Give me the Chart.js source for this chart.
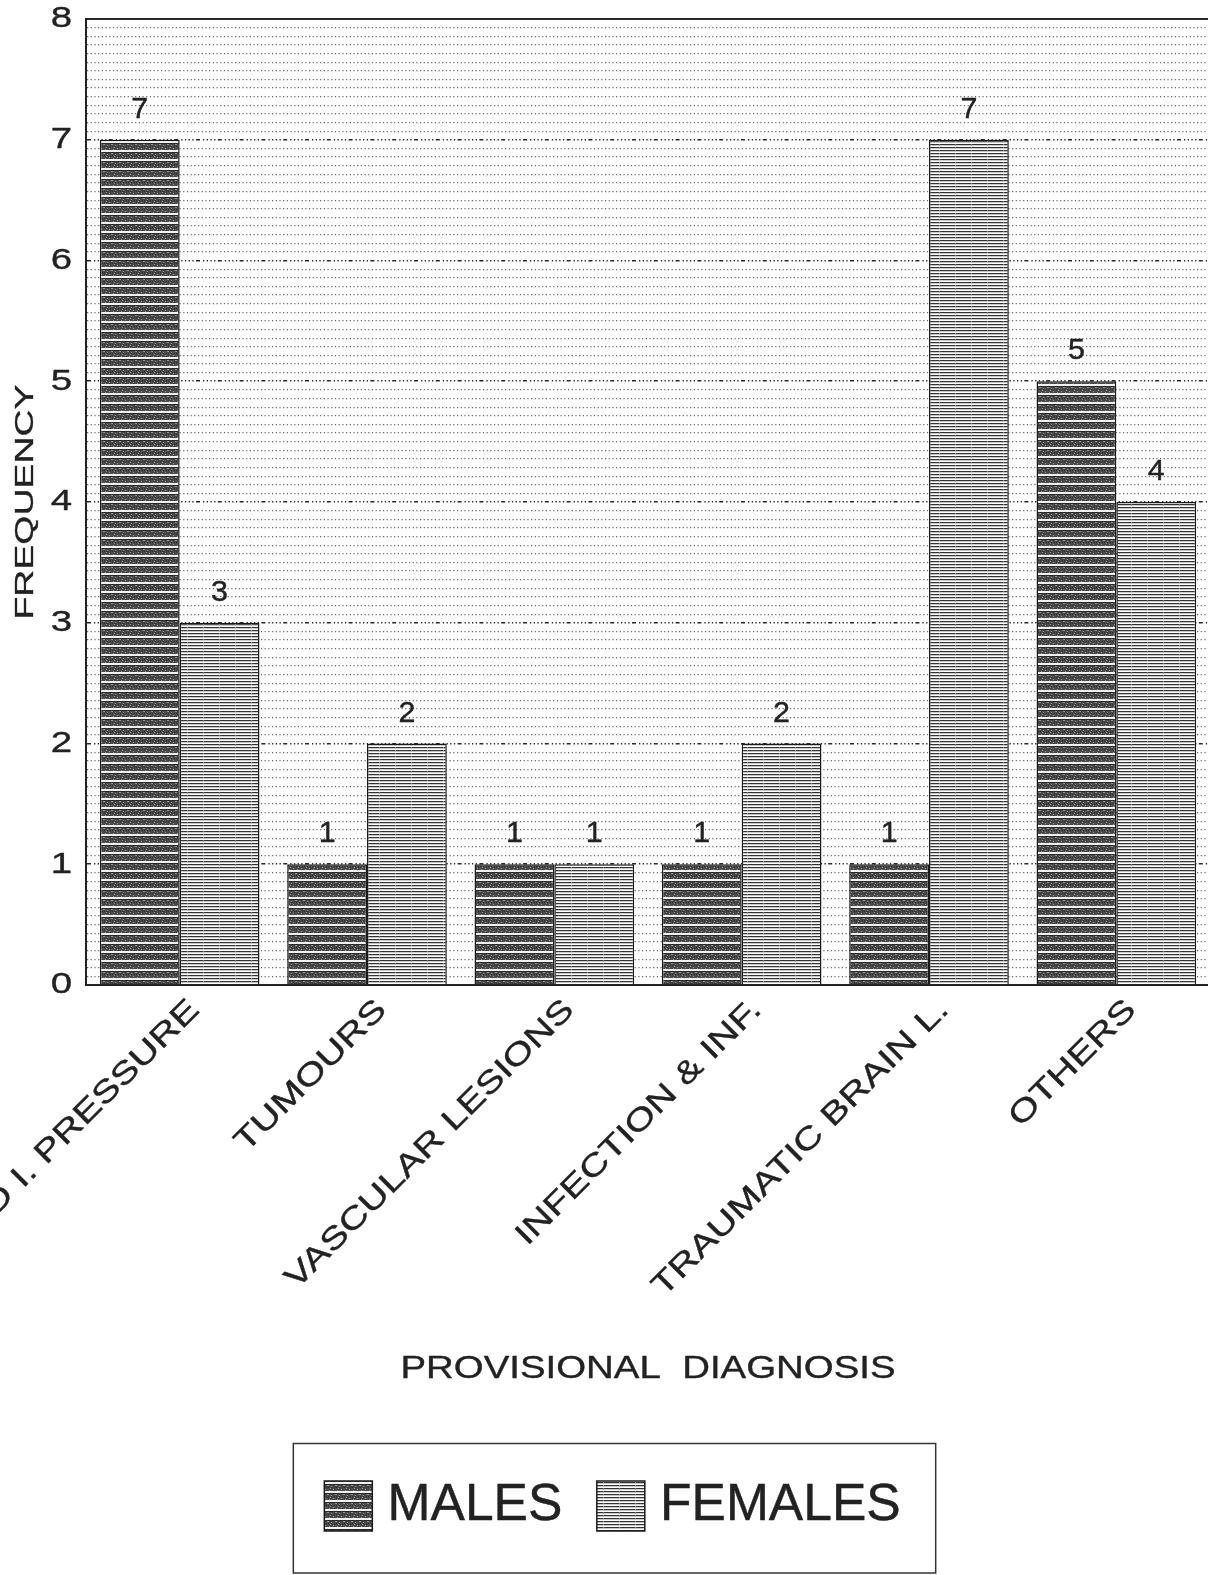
<!DOCTYPE html>
<html><head><meta charset="utf-8">
<script src="https://cdn.jsdelivr.net/npm/chart.js@4.4.1/dist/chart.umd.min.js"></script>
<style>html,body{margin:0;padding:0;background:#fff;overflow:hidden;width:1208px;height:1575px}canvas{display:block}</style>
</head><body>
<canvas id="c" width="1212" height="1575"></canvas>
<script>
// ---- data ----
const categories = ['RAISED I. PRESSURE', 'TUMOURS', 'VASCULAR LESIONS', 'INFECTION & INF.', 'TRAUMATIC BRAIN L.', 'OTHERS'];
const males = [7, 1, 1, 1, 1, 5];
const females = [3, 2, 1, 2, 7, 4];
const seriesNames = ['MALES', 'FEMALES'];
const yTicks = [0, 1, 2, 3, 4, 5, 6, 7, 8];
const yTitle = 'FREQUENCY';
const xTitle = 'PROVISIONAL  DIAGNOSIS';
const minorPerUnit = 14;

// ---- styling ----
const FONT = '"Liberation Sans", Arial, Helvetica, sans-serif';
const INK = '#222';
const SZ = { yTick: 30, xTick: 31, xTitle: 32, yTitle: 26, legend: 30.5, value: 29 };
// horizontal / vertical glyph scale per font size (the original plot font is a wide one)
const TEXT_SCALE = {};
TEXT_SCALE[SZ.yTick] = [1.28, 1];
TEXT_SCALE[SZ.xTick] = [1.28, 1];
TEXT_SCALE[SZ.xTitle] = [1.2, 1];
TEXT_SCALE[SZ.yTitle] = [1.44, 1];
TEXT_SCALE[SZ.legend] = [1.69, 1.69];
TEXT_SCALE[SZ.value] = [1.05, 1];

const canvas = document.getElementById('c');
const ctx = canvas.getContext('2d');
const rawFill = ctx.fillText.bind(ctx);
const rawMeasure = ctx.measureText.bind(ctx);
function scaleFor() {
  const m = /(\d+(?:\.\d+)?)px/.exec(ctx.font);
  const size = m ? parseFloat(m[1]) : 12;
  return TEXT_SCALE[size] || [1, 1];
}
ctx.fillText = function (t, x, y) {
  const [sx, sy] = scaleFor();
  ctx.save();
  ctx.translate(x, y);
  ctx.scale(sx, sy);
  ctx.lineWidth = 0.45 / Math.max(sx, sy);
  ctx.strokeStyle = ctx.fillStyle;
  ctx.lineJoin = 'round';
  rawFill(t, 0, 0);
  ctx.strokeText(t, 0, 0);
  ctx.restore();
};
ctx.measureText = function (t) {
  const m = rawMeasure(t);
  const [sx, sy] = scaleFor();
  if (sx === 1 && sy === 1) return m;
  return {
    width: m.width * sx,
    actualBoundingBoxLeft: m.actualBoundingBoxLeft * sx,
    actualBoundingBoxRight: m.actualBoundingBoxRight * sx,
    actualBoundingBoxAscent: m.actualBoundingBoxAscent * sy,
    actualBoundingBoxDescent: m.actualBoundingBoxDescent * sy,
    fontBoundingBoxAscent: m.fontBoundingBoxAscent * sy,
    fontBoundingBoxDescent: m.fontBoundingBoxDescent * sy
  };
};

function makePattern(w, h, draw) {
  const c = document.createElement('canvas');
  c.width = w; c.height = h;
  draw(c.getContext('2d'));
  return ctx.createPattern(c, 'repeat');
}
const malePattern = makePattern(8, 9, g => {
  g.fillStyle = '#4a4a4a'; g.fillRect(0, 0, 8, 9);
  g.fillStyle = '#8e8e8e';
  for (let y = 0; y < 6; y++) for (let x = 0; x < 8; x++) if ((x * 3 + y * 5) % 7 === 0) g.fillRect(x, y, 1, 1);
  g.fillStyle = '#2c2c2c';
  for (let x = 0; x < 8; x += 3) g.fillRect(x, 2, 1, 1);
  g.fillStyle = '#f2f2f2'; g.fillRect(0, 6, 8, 2);
  g.fillStyle = '#2a2a2a'; g.fillRect(0, 8, 8, 1);
});
const femalePattern = makePattern(16, 3, g => {
  g.fillStyle = '#ffffff'; g.fillRect(0, 0, 16, 3);
  g.fillStyle = '#333333'; g.fillRect(0, 0, 16, 1);
  g.fillStyle = '#888888'; g.fillRect(11, 0, 1, 1);
  g.fillStyle = '#c8c8c8'; g.fillRect(0, 1, 16, 1);
});

const isInt = v => Math.abs(v - Math.round(v)) < 1e-6;
const yMin = yTicks[0], yMax = yTicks[yTicks.length - 1];

const valueLabels = {
  id: 'valueLabels',
  afterDatasetsDraw(chart) {
    const c = chart.ctx;
    c.save();
    c.font = SZ.value + 'px ' + FONT;
    c.fillStyle = INK;
    c.textAlign = 'center';
    c.textBaseline = 'alphabetic';
    chart.data.datasets.forEach((ds, di) => {
      chart.getDatasetMeta(di).data.forEach((bar, i) => {
        c.fillText(String(ds.data[i]), bar.x, bar.y - 22);
      });
    });
    c.restore();
  }
};

const legendFrame = {
  id: 'legendFrame',
  afterDraw(chart) {
    const lg = chart.legend;
    const hb = lg && lg.legendHitBoxes;
    if (!hb || !hb.length) return;
    const last = hb[hb.length - 1];
    const left = hb[0].left - 31;
    const right = last.left + last.width + 35;
    const top = lg.top - 3;
    const bottom = chart.height - 2;
    const c = chart.ctx;
    c.save();
    c.strokeStyle = '#333';
    c.lineWidth = 1.5;
    c.strokeRect(left, top, right - left, bottom - top);
    c.restore();
  }
};

new Chart(canvas, {
  type: 'bar',
  data: {
    labels: categories,
    datasets: [
      { label: seriesNames[0], data: males, backgroundColor: malePattern, borderColor: '#1a1a1a', borderWidth: 1.5,
        categoryPercentage: 0.852, barPercentage: 1.0 },
      { label: seriesNames[1], data: females, backgroundColor: femalePattern, borderColor: '#1a1a1a', borderWidth: 1.5,
        categoryPercentage: 0.852, barPercentage: 1.0 }
    ]
  },
  options: {
    responsive: false,
    devicePixelRatio: 1,
    animation: false,
    layout: { padding: { top: 19, left: 15, right: 2, bottom: 34 } },
    plugins: {
      legend: {
        position: 'bottom',
        labels: { font: { size: SZ.legend, family: FONT }, color: INK, boxWidth: 48, boxHeight: 50, padding: 34.5 }
      },
      tooltip: { enabled: false },
      title: { display: false }
    },
    scales: {
      x: {
        grid: { display: false },
        border: { display: true, color: INK, width: 2 },
        ticks: { autoSkip: false, maxRotation: 45, minRotation: 45, padding: -1, labelOffset: 15,
                 font: { size: SZ.xTick, family: FONT }, color: INK },
        title: { display: true, text: xTitle, font: { size: SZ.xTitle, family: FONT }, color: INK,
                 padding: { top: 0, bottom: 58 } },
        afterFit(s) { s.height = 461.5; s.paddingLeft = 0; s.paddingRight = 0; }
      },
      y: {
        min: yMin, max: yMax,
        ticks: {
          stepSize: 1 / minorPerUnit, autoSkip: false, padding: 14,
          font: { size: SZ.yTick, family: FONT }, color: INK,
          callback: v => (isInt(v) && yTicks.includes(Math.round(v))) ? String(Math.round(v)) : ''
        },
        grid: {
          drawTicks: false,
          color: c => {
            const v = c.tick ? c.tick.value : undefined;
            if (v === undefined) return INK;
            return isInt(v) ? '#2a2a2a' : '#6a6a6a';
          },
          lineWidth: c => {
            const v = c.tick ? c.tick.value : undefined;
            if (v === undefined) return 1;
            if (isInt(v) && (Math.round(v) === yMin || Math.round(v) === yMax)) return 2;
            return isInt(v) ? 1.6 : 1.2;
          }
        },
        border: {
          display: true, color: INK, width: 2,
          dash: c => {
            const v = c.tick ? c.tick.value : undefined;
            if (v === undefined) return [];
            if (isInt(v)) {
              const r = Math.round(v);
              if (r === yMin || r === yMax) return [];
              return [4, 3, 1.3, 2.4, 1.3, 2.4, 1.3, 2.4, 1.3, 2.4];
            }
            return [1.2, 2.5];
          }
        },
        title: { display: true, text: yTitle, font: { size: SZ.yTitle, family: FONT, lineHeight: 0.85 }, color: INK,
                 padding: { top: 0, bottom: 0 } },
        afterFit(s) { s.width = 71; s.paddingTop = 0; s.paddingBottom = 0; }
      }
    }
  },
  plugins: [valueLabels, legendFrame]
});
</script>
</body></html>
